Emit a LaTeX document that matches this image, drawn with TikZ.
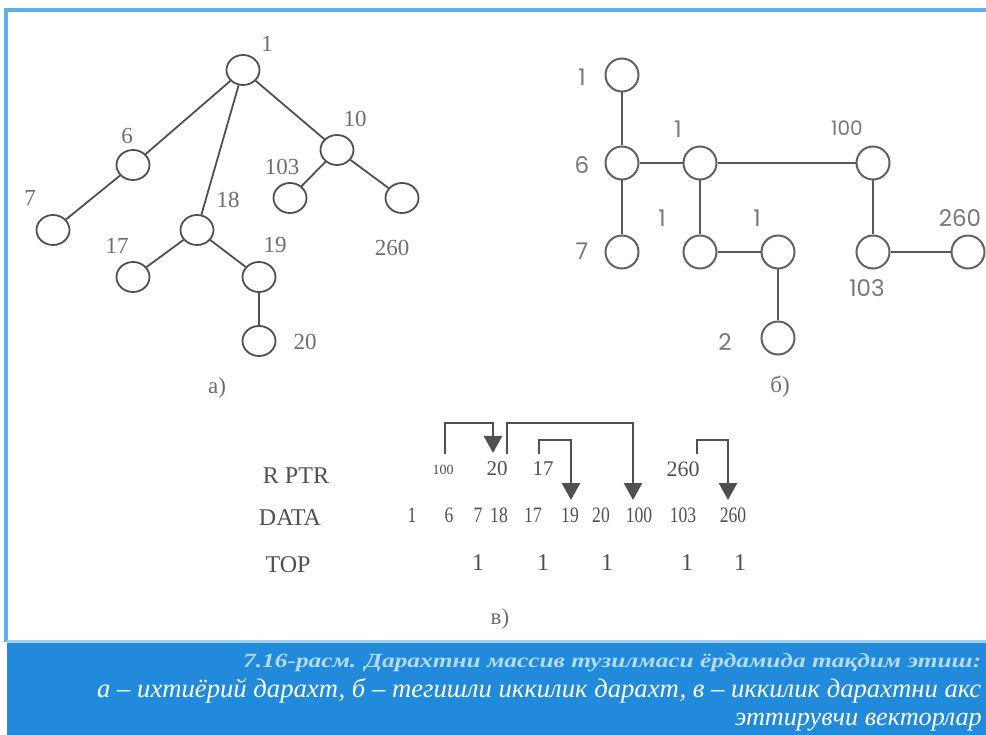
\documentclass[tikz,border=0pt]{standalone}
\usepackage{fontspec}
\setmainfont{Liberation Serif}
\newfontfamily\gothic{Poppins}
\usetikzlibrary{arrows.meta,shapes.geometric}
\definecolor{frameblue}{HTML}{62AEEC}
\definecolor{bandblue}{HTML}{218ADB}
\definecolor{ink}{HTML}{505050}
\definecolor{lab}{HTML}{6E6E6E}
\definecolor{labb}{HTML}{787878}
\definecolor{capfaint}{HTML}{B4DAF6}
\begin{document}
\begin{tikzpicture}[x=1pt,y=-1pt,
  vA/.style={draw=ink, line width=1.8pt, ellipse, minimum width=33pt, minimum height=30pt, inner sep=0pt},
  vB/.style={draw=ink!90, line width=2pt, circle, minimum size=33pt, inner sep=0pt},
  eA/.style={draw=ink, line width=1.8pt},
  eB/.style={draw=ink!95, line width=2.4pt},
  labA/.style={text=lab, font=\fontsize{23}{23}\selectfont, inner sep=0pt},
  labB/.style={text=labb, font=\gothic\fontsize{23}{23}\selectfont, inner sep=0pt},
  rowlab/.style={text=ink, font=\fontsize{24}{24}\selectfont, inner sep=0pt},
  dat/.style={text=ink, font=\fontsize{22}{22}\selectfont, inner sep=0pt, xscale=0.8},
  ptr/.style={draw=ink, line width=2.6pt, line join=miter, -{Triangle[width=18pt,length=17pt]}},
  captxt/.style={inner sep=0pt, text=white}]
\useasboundingbox (0,0) rectangle (986,735);
\fill[white] (0,0) rectangle (986,735);
% frame
\draw[frameblue, line width=3.5pt] (6,642) -- (6,10) -- (986,10);
% caption band
\fill[bandblue] (7,641) rectangle (986,735);
\fill[frameblue!60] (7,640) rectangle (986,643);

% ---------- tree a)
\node[vA] (a1) at (243,70) {};
\node[vA] (a6) at (133,165) {};
\node[vA] (a7) at (53,230) {};
\node[vA] (a18) at (197,230) {};
\node[vA] (a17) at (133,277) {};
\node[vA] (a19) at (259,277) {};
\node[vA] (a20) at (259,341) {};
\node[vA] (a10) at (337,150) {};
\node[vA] (a103) at (290,198) {};
\node[vA] (a260) at (402,198) {};
\draw[eA] (a1) -- (a6);
\draw[eA] (a1) -- (a18);
\draw[eA] (a1) -- (a10);
\draw[eA] (a6) -- (a7);
\draw[eA] (a18) -- (a17);
\draw[eA] (a18) -- (a19);
\draw[eA] (a19) -- (a20);
\draw[eA] (a10) -- (a103);
\draw[eA] (a10) -- (a260);
\node[labA] (la1) at (267,44) {1};
\node[labA] (la6) at (127,136) {6};
\node[labA] (la7) at (30,198) {7};
\node[labA] (la10) at (355,119) {10};
\node[labA] (la103) at (282,167) {103};
\node[labA] (la18) at (228,200) {18};
\node[labA] (la17) at (117,246) {17};
\node[labA] (la19) at (275,245) {19};
\node[labA] (la260) at (392,248) {260};
\node[labA] (la20) at (305,342) {20};
\node[labA] (capa) at (217,388) {а)};

% ---------- tree b)
\node[vB] (b1) at (622,75) {};
\node[vB] (b6) at (622,163) {};
\node[vB] (b7) at (622,252) {};
\node[vB] (c1) at (700,163) {};
\node[vB] (c2) at (700,252) {};
\node[vB] (c3) at (778,252) {};
\node[vB] (b2) at (778,338) {};
\node[vB] (d100) at (873,163) {};
\node[vB] (d103) at (873,252) {};
\node[vB] (d260) at (968,252) {};
\draw[eB] (b1) -- (b6);
\draw[eB] (b6) -- (b7);
\draw[eB] (b6) -- (c1);
\draw[eB] (c1) -- (d100);
\draw[eB] (c1) -- (c2);
\draw[eB] (c2) -- (c3);
\draw[eB] (c3) -- (b2);
\draw[eB] (d100) -- (d103);
\draw[eB] (d103) -- (d260);
\node[labB] (lb1) at (582,77) {1};
\node[labB] (lb6) at (582,165) {6};
\node[labB] (lb7) at (582,251) {7};
\node[labB] (lc1) at (678,129) {1};
\node[labB] (lc2) at (662,218) {1};
\node[labB] (lc3) at (757,218) {1};
\node[labB] (lb2) at (725,342) {2};
\node[labB, font=\gothic\fontsize{20}{20}\selectfont] (ld100) at (847,128) {100};
\node[labB] (ld103) at (867,288) {103};
\node[labB] (ld260) at (960,218) {260};
\node[labA] (capb) at (780,387) {б)};

% ---------- vectors c)
\node[rowlab] (rrow) at (296,476) {R PTR};
\node[rowlab] (drow) at (290,518) {DATA};
\node[rowlab] (trow) at (288,565) {TOP};
\node[text=ink, inner sep=0pt, font=\fontsize{14}{14}\selectfont] (rp100) at (443,470) {100};
\node[text=ink, inner sep=0pt, font=\fontsize{21}{21}\selectfont] (rp20) at (497,469) {20};
\node[text=ink, inner sep=0pt, font=\fontsize{21}{21}\selectfont] (rp17) at (543,469) {17};
\node[text=ink, inner sep=0pt, font=\fontsize{22}{22}\selectfont] (rp260) at (683,469) {260};
\node[dat] (da1) at (412,515) {1};
\node[dat] (da6) at (449,515) {6};
\node[dat] (da7) at (478,515) {7};
\node[dat] (da18) at (499,515) {18};
\node[dat] (da17) at (533,515) {17};
\node[dat] (da19) at (570,515) {19};
\node[dat] (da20) at (601,515) {20};
\node[dat] (da100) at (639,515) {100};
\node[dat] (da103) at (683,515) {103};
\node[dat] (da260) at (733,515) {260};
\node[rowlab] (tp7) at (478,563) {1};
\node[rowlab] (tp17) at (543,563) {1};
\node[rowlab] (tp20) at (607,563) {1};
\node[rowlab] (tp103) at (687,563) {1};
\node[rowlab] (tp260) at (740,563) {1};
\coordinate (lvlA) at (0,423);
\coordinate (lvlB) at (0,440);
\coordinate (s1) at (445,454); \coordinate (t1) at (493,453);
\coordinate (s2) at (507,454); \coordinate (t2) at (633,500);
\coordinate (s3) at (539,454); \coordinate (t3) at (571,500);
\coordinate (s4) at (697,454); \coordinate (t4) at (728,500);
\draw[ptr] (s1) -- (s1 |- lvlA) -| (t1);
\draw[ptr] (s2) -- (s2 |- lvlA) -| (t2);
\draw[ptr] (s3) -- (s3 |- lvlB) -| (t3);
\draw[ptr] (s4) -- (s4 |- lvlB) -| (t4);
\node[labA] (capc) at (500,619) {в)};

% ---------- caption
\node[captxt, text=capfaint, anchor=base west] (cap1) at (243,667) {\resizebox{738pt}{14pt}{\bfseries\itshape 7.16-расм. Дарахтни массив тузилмаси ёрдамида тақдим этиш:}};
\node[captxt, anchor=base west] (cap2) at (97,697) {\resizebox{884pt}{!}{\itshape а – ихтиёрий дарахт, б – тегишли иккилик дарахт, в – иккилик дарахтни акс}};
\node[captxt, anchor=base east] (cap3) at (982,725) {\resizebox{247pt}{!}{\itshape эттирувчи векторлар}};
\end{tikzpicture}
\end{document}
